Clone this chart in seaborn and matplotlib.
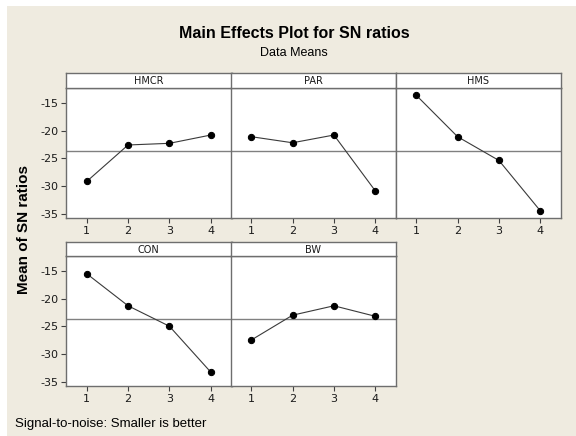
import numpy as np
import pandas as pd
import matplotlib
matplotlib.use("Agg")
import matplotlib.pyplot as plt
from matplotlib.patches import Rectangle
import seaborn as sns

# ---- data ----
levels = [1, 2, 3, 4]
factors = ["HMCR", "PAR", "HMS", "CON", "BW"]
hmcr = [-29.2, -22.6, -22.3, -20.8]
par = [-21.1, -22.2, -20.8, -30.9]
hms = [-13.6, -21.1, -25.4, -34.5]
con = [-15.5, -21.3, -25.0, -33.3]
bw = [-27.5, -23.0, -21.3, -23.2]
yticks = [-15, -20, -25, -30, -35]

series = [hmcr, par, hms, con, bw]
df = pd.DataFrame({
    "factor": np.repeat(factors, len(levels)),
    "level": levels * len(factors),
    "sn": np.concatenate(series),
})
grand_mean = df["sn"].mean()

sns.set_theme(style="white")
plt.rcParams["font.family"] = ["Liberation Sans", "DejaVu Sans"]
plt.rcParams["axes.unicode_minus"] = False

W, H = 576, 436
fig = plt.figure(figsize=(W / 100, H / 100), dpi=100, facecolor="white")
bg = "#efebe0"
fig.patches.append(Rectangle((7 / W, 0), 1, (H - 6) / H, transform=fig.transFigure,
                             facecolor=bg, edgecolor="none", zorder=-10))

def fx(px):
    return px / W

def fy(py):
    return 1 - py / H

col_left = [66, 230.5, 395.5]
col_w = 165.5
rows = [(73, 88, 218), (242, 256, 386)]  # strip top, plot top, plot bottom
edge = "#6e6e6e"

for i, fac in enumerate(factors):
    r, c = divmod(i, 3)
    st, pt, pb = rows[r]
    x0 = col_left[c]
    ax = fig.add_axes([fx(x0), fy(pb), col_w / W, (pb - pt) / H])
    sax = fig.add_axes([fx(x0), fy(pt), col_w / W, (pt - st) / H])
    sub = df[df["factor"] == fac]
    ax.axhline(grand_mean, color="#808080", lw=1.0, zorder=1)
    sns.lineplot(data=sub, x="level", y="sn", ax=ax, color="#3a3a3a", lw=0.8,
                 marker="o", markersize=4.5, markerfacecolor="black",
                 markeredgecolor="black", zorder=3)
    ax.set_xlim(0.5, 4.5)
    ax.set_ylim(-35.8, -12.3)
    ax.set_xticks(levels)
    ax.set_yticks(yticks)
    ax.set_xticklabels([str(v) for v in levels])
    ax.set_yticklabels([str(v) for v in yticks])
    ax.set_xlabel("")
    ax.set_ylabel("")
    ax.set_facecolor("white")
    for s in ax.spines.values():
        s.set_color(edge)
        s.set_linewidth(1.0)
    ax.tick_params(axis="both", which="both", direction="out", length=3.5, width=0.8,
                   color="#404040", labelsize=8, labelcolor="#1a1a1a", pad=2,
                   bottom=True, left=(c == 0))
    for lab in ax.get_xticklabels() + ax.get_yticklabels():
        lab.set_family("DejaVu Sans")
    if c != 0:
        ax.set_yticklabels([])
    # strip
    sax.set_facecolor("white")
    sax.set_xticks([])
    sax.set_yticks([])
    for s in sax.spines.values():
        s.set_color(edge)
        s.set_linewidth(1.0)
    sax.text(0.5, 0.45, fac, ha="center", va="center", fontsize=7,
             color="#1a1a1a", transform=sax.transAxes, family="DejaVu Sans")

fig.text(fx(294), fy(33), "Main Effects Plot for SN ratios", ha="center", va="center",
         fontsize=11.5, fontweight="bold", color="black")
fig.text(fx(294), fy(53), "Data Means", ha="center", va="center", fontsize=9,
         color="black")
fig.text(fx(24), fy(230), "Mean of SN ratios", ha="center", va="center", rotation=90,
         fontsize=11, fontweight="bold", color="black")
fig.text(fx(15), fy(424), "Signal-to-noise: Smaller is better", ha="left", va="center",
         fontsize=9.5, color="black")

fig.savefig("out.png", dpi=100, facecolor=fig.get_facecolor())
